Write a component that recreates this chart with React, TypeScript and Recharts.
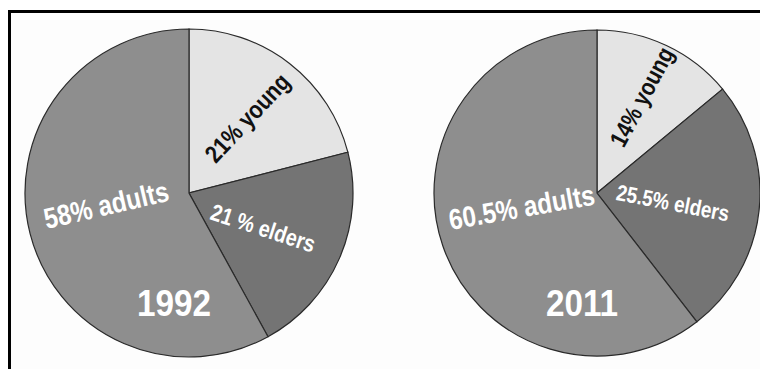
import { PieChart, Pie, Cell } from "recharts";

const groups = ["young", "elders", "adults"];
const years = ["1992", "2011"];
const shares1992 = [21, 21, 58];
const shares2011 = [14, 25.5, 60.5];
const labels1992 = ["21% young", "21 % elders", "58% adults"];
const labels2011 = ["14% young", "25.5% elders", "60.5% adults"];

const COLORS = ["#e4e4e4", "#747474", "#8e8e8e"];
const TEXT_COLORS = ["#111111", "#ffffff", "#ffffff"];
const FONT = "'Liberation Sans', Arial, sans-serif";
const NARROW = 0.84; // the original lettering is a condensed face

// label placement per slice: fraction of radius, angle nudge, text rotation, size
const layout: Record<string, { r: number; da: number; rot: number; fs: number }[]> = {
    "1992": [
        { r: 0.58, da: 0, rot: -47, fs: 25 },
        { r: 0.5, da: -2, rot: 18, fs: 23.5 },
        { r: 0.51, da: -6, rot: -13, fs: 29 },
    ],
    "2011": [
        { r: 0.65, da: 0, rot: -62, fs: 24.5 },
        { r: 0.47, da: -1, rot: 11, fs: 22.5 },
        { r: 0.47, da: -8, rot: -10, fs: 29 },
    ],
};

const RAD = Math.PI / 180;

function buildData(shares: number[], labels: string[]) {
    return groups.map((g, i) => ({ name: g, value: shares[i], label: labels[i] }));
}

const data1992 = buildData(shares1992, labels1992);
const data2011 = buildData(shares2011, labels2011);

function makeLabel(year: string) {
    // eslint-disable-next-line @typescript-eslint/no-explicit-any
    return (props: any) => {
        const { cx, cy, midAngle, outerRadius, index, payload } = props;
        const cfg = layout[year][index];
        const a = (midAngle + cfg.da) * RAD;
        const x = cx + outerRadius * cfg.r * Math.cos(a);
        const y = cy - outerRadius * cfg.r * Math.sin(a);
        const text = payload?.label ?? props.label;
        return (
            <g>
                <text
                    x={0}
                    y={0}
                    fill={TEXT_COLORS[index]}
                    fontFamily={FONT}
                    fontWeight="bold"
                    fontSize={cfg.fs}
                    textAnchor="middle"
                    dominantBaseline="central"
                    transform={`translate(${x}, ${y}) rotate(${cfg.rot}) scale(${NARROW}, 1)`}
                >
                    {text}
                </text>
                {index === 2 && (
                    <text
                        x={0}
                        y={0}
                        fill="#ffffff"
                        fontFamily={FONT}
                        fontWeight="bold"
                        fontSize={37}
                        textAnchor="middle"
                        dominantBaseline="central"
                        transform={`translate(${cx - 15}, ${cy + 110}) scale(0.9, 1)`}
                    >
                        {year}
                    </text>
                )}
            </g>
        );
    };
}

export default function App() {
    return (
        <div style={{ position: "absolute", left: 0, top: 0, width: 760, height: 369, background: "#ffffff", overflow: "hidden" }}>
            <div
                style={{
                    position: "absolute",
                    left: 8,
                    top: 10,
                    right: 0,
                    bottom: 0,
                    borderTop: "3px solid #000",
                    borderLeft: "3px solid #000",
                    background: "#fdfdfd",
                }}
            />
            <div style={{ position: "absolute", left: 0, top: 0 }}>
                <PieChart width={760} height={369} margin={{ top: 0, right: 0, bottom: 0, left: 0 }}>
                    <Pie
                        data={data1992}
                        dataKey="value"
                        nameKey="name"
                        cx={189}
                        cy={193}
                        outerRadius={164}
                        startAngle={90}
                        endAngle={-270}
                        stroke="#2a2a2a"
                        strokeWidth={1.2}
                        label={makeLabel(years[0])}
                        labelLine={false}
                        isAnimationActive={false}
                    >
                        {data1992.map((d, i) => (
                            <Cell key={d.name} fill={COLORS[i]} />
                        ))}
                    </Pie>
                    <Pie
                        data={data2011}
                        dataKey="value"
                        nameKey="name"
                        cx={597}
                        cy={193}
                        outerRadius={163}
                        startAngle={90}
                        endAngle={-270}
                        stroke="#2a2a2a"
                        strokeWidth={1.2}
                        label={makeLabel(years[1])}
                        labelLine={false}
                        isAnimationActive={false}
                    >
                        {data2011.map((d, i) => (
                            <Cell key={d.name} fill={COLORS[i]} />
                        ))}
                    </Pie>
                </PieChart>
            </div>
        </div>
    );
}
